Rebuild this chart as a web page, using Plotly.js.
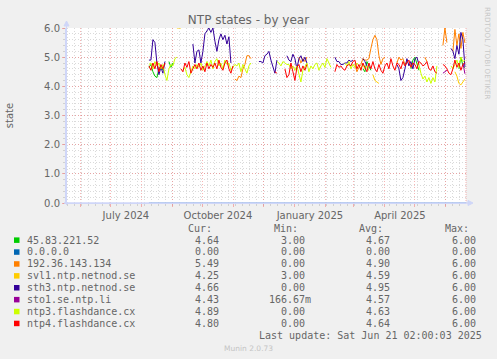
<!DOCTYPE html>
<html><head><meta charset="utf-8">
<script src="https://cdn.plot.ly/plotly-3.0.1.min.js"></script>
<style>html,body{margin:0;padding:0;background:#f0f0f0;}#chart{width:497px;height:359px;}</style>
</head><body><div id="chart"></div>
<script>
// ---- time axis (RRD sampling grid: one sample every 2 days) ----
const sampleStart = '2024-08-08';
const sampleStepDays = 2;
const xRange = ['2024-05-17 02:00:03', '2025-06-21 02:00:03'];
const monthStarts = ['2024-06-01','2024-07-01','2024-08-01','2024-09-01','2024-10-01','2024-11-01','2024-12-01','2025-01-01','2025-02-01','2025-03-01','2025-04-01','2025-05-01','2025-06-01'];
const monthLabels = ['','July 2024','','','October 2024','','','January 2025','','','April 2025','',''];
const yTickVals = [0,1,2,3,4,5,6];
const yTickText = ['0.0','1.0','2.0','3.0','4.0','5.0','6.0'];

// ---- series (values per 2-day sample, null = no data) ----
const s45_83_221_52 = [
4.65,4.75,4.5,4.35,4.3,4.6,4.7,4.55,null,null,
4.85,4.65,4.8,null,null,null,null,null,null,null,
null,null,null,null,null,null,null,null,null,null,
null,null,null,null,null,null,null,null,null,null,
null,null,null,null,null,null,null,null,null,null,
null,null,null,null,null,null,null,null,null,null,
null,null,null,null,null,null,null,null,null,null,
null,null,null,null,null,null,null,null,null,null,
null,null,null,null,null,null,null,null,null,null,
null,null,null,null,null,null,null,null,null,null,
null,null,null,null,null,null,null,4.6,4.5,4.85,
4.7,4.55,null,null,null,null,null,null,null,null,
null,null,null,null,null,null,null,null,null,null,
null,4.6,4.9,5.0,4.75,4.55,null,null,null,null,
null,null,null,null,null,null,null,null,null,null,
null,null,null,null,null,4.6,5.0,4.7,4.64];
const s0_0_0_0_dates = ['2024-08-08','2025-06-21'];
const s0_0_0_0 = [0,0];
const s192_36_143_134 = [
null,null,null,null,null,null,null,null,null,null,
null,null,null,null,null,null,null,null,null,null,
null,null,null,null,null,null,null,null,null,null,
null,null,null,null,null,null,null,null,null,null,
null,null,null,4.25,4.2,4.35,4.3,4.6,4.75,5.05,
5.05,4.95,null,null,null,null,null,null,null,null,
null,null,null,null,null,null,null,null,null,null,
null,null,null,null,null,5.0,4.8,4.95,4.85,5.0,
null,null,null,null,null,null,null,null,null,null,
null,null,null,null,null,null,null,null,null,null,
null,null,null,4.75,4.5,4.65,4.75,4.95,4.9,4.9,
4.95,5.3,5.6,5.75,5.6,5.05,4.75,4.95,5.0,null,
null,null,null,null,4.8,5.0,4.9,4.95,4.75,4.85,
null,null,null,null,null,null,null,null,5.0,4.85,
null,null,null,null,null,null,null,5.4,6.0,5.5,
null,null,5.2,5.95,5.4,5.8,5.3,5.85,5.49];
const sSvl1 = [
null,null,null,null,null,null,null,null,null,null,
null,null,null,null,6.0,6.0,6.0,null,null,null,
null,null,null,null,null,null,null,null,null,null,
null,null,null,null,null,null,null,null,null,null,
null,null,null,null,null,null,null,null,null,null,
null,null,null,null,null,null,null,null,null,null,
null,null,null,null,null,null,null,null,null,null,
null,null,null,null,null,null,null,null,null,null,
null,null,null,null,null,null,null,null,null,null,
null,null,null,null,null,null,null,null,null,null,
null,null,null,null,null,null,null,null,null,null,
null,null,4.4,4.2,4.15,4.1,null,null,null,null,
null,null,null,null,null,null,null,null,null,null,
null,null,null,null,null,null,null,null,null,null,
null,null,null,null,null,null,null,null,null,null,
null,null,null,4.5,4.35,4.1,4.05,4.15,4.25];
const sSth3 = [
4.9,4.9,5.6,5.5,4.8,4.4,4.65,4.45,4.85,null,
null,null,null,null,null,null,null,null,null,null,
null,null,5.45,4.8,5.2,5.25,4.8,5.2,5.8,5.9,
6.0,5.85,6.0,5.55,5.2,5.6,5.8,5.6,5.75,5.45,
5.7,4.8,null,null,null,null,null,null,null,null,
null,null,null,null,null,4.85,4.85,4.8,5.05,5.1,
5.2,4.9,4.7,4.45,4.9,null,null,null,null,5.05,
4.9,4.85,5.1,4.95,4.6,4.95,5.05,4.85,5.0,4.8,
null,null,null,null,null,null,null,null,null,null,
null,null,null,5.0,4.85,4.85,4.75,4.75,4.8,4.8,
4.9,4.85,4.9,null,null,null,null,4.95,4.85,4.7,
null,null,null,null,null,null,null,null,null,null,
null,null,null,null,4.75,4.6,4.2,4.3,4.6,4.95,
4.7,4.85,4.6,4.95,5.0,4.75,null,null,null,null,
null,null,null,null,null,null,null,null,null,null,
null,5.3,5.2,4.95,5.4,5.1,5.85,5.6,4.66];
const sSto1 = [
null,null,null,null,null,null,null,null,null,null,
null,null,null,null,null,null,null,null,null,null,
null,null,null,null,null,null,null,null,null,null,
null,null,null,null,null,null,null,null,null,null,
null,null,null,null,null,null,null,null,null,null,
null,null,null,null,null,null,null,null,null,null,
null,null,null,null,null,null,null,null,null,null,
null,null,null,null,null,null,null,null,null,null,
null,null,null,null,null,null,null,null,null,null,
null,null,null,null,null,null,null,null,null,null,
null,null,null,null,null,null,null,null,null,null,
null,null,null,null,null,null,null,null,null,null,
null,null,null,null,null,null,null,null,null,null,
null,null,null,null,null,null,null,null,null,null,
null,null,null,null,null,null,null,4.45,4.5,4.55,
null,null,null,null,null,null,null,4.8,4.43];
const sNtp3 = [
4.75,4.8,4.6,4.85,4.7,4.8,4.6,4.75,4.4,4.2,
4.6,4.75,4.7,4.95,5.0,null,null,4.55,4.65,4.4,
4.3,4.5,4.7,4.6,4.75,4.65,4.8,4.55,4.7,4.85,
4.7,4.9,4.6,4.85,4.95,4.7,4.8,4.6,4.9,4.75,
4.8,4.55,4.65,4.75,4.7,4.8,4.5,4.75,4.6,4.45,
4.7,4.8,null,null,null,null,null,null,null,null,
null,null,null,null,4.85,4.8,4.7,4.85,4.8,4.75,
4.75,4.6,4.7,4.55,4.7,4.4,4.15,4.55,4.7,4.8,
4.5,4.7,4.6,4.75,4.8,4.55,4.7,4.8,4.65,4.95,
4.8,4.65,null,null,null,null,null,null,4.8,4.7,
4.85,4.6,4.75,4.65,4.8,4.7,4.6,4.75,4.6,4.7,
4.55,null,null,null,null,null,null,null,null,null,
null,null,null,null,null,null,null,null,null,null,
null,null,null,null,4.8,4.75,4.45,4.25,4.35,4.15,
4.3,4.1,4.3,4.15,4.7,null,null,null,null,null,
null,4.7,4.6,4.75,4.9,4.65,5.0,4.85,4.89];
const sNtp4 = [
4.7,4.55,4.8,4.6,4.85,4.5,4.75,4.6,4.8,null,
null,null,null,null,null,null,4.6,4.5,4.8,4.65,
4.85,4.45,4.6,4.75,4.6,4.8,4.55,4.7,4.5,4.8,
4.6,4.75,4.65,4.8,4.6,4.9,4.65,4.55,4.8,4.9,
4.6,4.45,4.7,null,null,null,null,null,null,null,
null,null,null,null,null,null,null,null,null,null,
null,null,null,4.5,4.45,null,null,null,4.6,4.3,
4.4,4.8,4.5,4.2,4.65,4.75,4.5,4.7,4.55,4.75,
null,null,null,null,null,null,null,null,null,null,
null,null,null,4.5,4.75,4.65,4.7,4.6,4.55,4.7,
4.75,4.7,4.85,4.9,4.6,4.75,4.55,4.8,4.65,4.5,
4.8,4.6,4.85,4.6,4.5,4.75,4.55,4.45,4.7,4.8,
4.6,4.95,4.7,4.55,4.8,4.75,4.6,4.85,4.7,4.8,
4.9,4.65,4.8,4.75,4.6,4.85,4.8,4.7,4.75,4.85,
4.6,4.55,4.7,4.5,4.45,null,null,4.75,4.7,4.6,
4.45,4.4,4.6,4.9,4.65,4.8,4.55,4.75,4.8];

// ---- legend table ----
const seriesNames = ['45.83.221.52','0.0.0.0','192.36.143.134','svl1.ntp.netnod.se','sth3.ntp.netnod.se','sto1.se.ntp.li','ntp3.flashdance.cx','ntp4.flashdance.cx'];
const seriesColors = ['#00cc00','#0066b3','#ff8000','#ffcc00','#330099','#990099','#ccff00','#ff0000'];
const curVals = ['4.64','0.00','5.49','4.25','4.66','4.43','4.89','4.80'];
const minVals = ['3.00','0.00','0.00','3.00','0.00','166.67m','0.00','0.00'];
const avgVals = ['4.67','0.00','4.90','4.59','4.95','4.57','4.63','4.64'];
const maxVals = ['6.00','0.00','6.00','6.00','6.00','6.00','6.00','6.00'];
const lastUpdate = 'Last update: Sat Jun 21 02:00:03 2025';

// ---- build ----
function sampleDates(n){
  const out=[]; const t0=Date.parse(sampleStart+'T00:00:00Z');
  for(let i=0;i<n;i++){ out.push(new Date(t0+i*sampleStepDays*86400000).toISOString().slice(0,10)); }
  return out;
}
const seriesVals = [s45_83_221_52, s0_0_0_0, s192_36_143_134, sSvl1, sSth3, sSto1, sNtp3, sNtp4];
const traces = seriesVals.map((v,i)=>({
  type:'scatter', mode:'lines', name:seriesNames[i],
  x: i===1 ? s0_0_0_0_dates : sampleDates(v.length), y:v,
  line:{color:seriesColors[i], width:1}, cliponaxis: i!==1 ? false : true, hoverinfo:'skip', connectgaps:false
}));

const PL=66, PT=28, PW=400, PH=175;
const fx = p => (p-PL)/PW;
const fy = p => (PT+PH-p)/PH;
const FONT = '#666666';
const MONO = 'DejaVu Sans Mono';
const annotations = [];
const shapes = [];
function txt(t, x, y, anchor, opts){
  annotations.push(Object.assign({text:t, xref:'paper', yref:'paper', x:fx(x), y:fy(y), xanchor:anchor, yanchor:'middle', showarrow:false, borderpad:0,
    font:{family:MONO, size:10, color:FONT}}, opts||{}));
}
const rowY0 = 240, rowDy = 11.9;
const colRight = [220, 306, 391, 477];
const hdr = ['Cur:','Min:','Avg:','Max:'];
hdr.forEach((h,j)=>txt(h, colRight[j]-7, 228, 'right'));
const cols = [curVals, minVals, avgVals, maxVals];
seriesNames.forEach((n,k)=>{
  const y = rowY0 + k*rowDy;
  txt(n, 26, y, 'left');
  cols.forEach((c,j)=>{ const s=c[k]; const suffix=/[a-zA-Z]$/.test(s); txt(s, colRight[j]+(suffix?6:0), y, 'right'); });
  shapes.push({type:'rect', xref:'paper', yref:'paper', x0:fx(14), x1:fx(19.5), y0:fy(y+2.9), y1:fy(y-2.6), fillcolor:seriesColors[k], line:{width:0}});
});
txt(lastUpdate, 483, 335.7, 'right');
txt('Munin 2.0.73', 248, 348, 'center', {font:{family:'DejaVu Sans', size:7.5, color:'#c4c4c4'}});
annotations.push({text:'RRDTOOL / TOBI OETIKER', xref:'paper', yref:'paper', x:fx(487.5), y:fy(53.5), xanchor:'center', yanchor:'middle', textangle:90, showarrow:false, borderpad:0,
  font:{family:'DejaVu Sans', size:7.2, color:'#c8c8c8'}});

// axis lines + arrows (drawn above the data, as rrdtool does)
const AX = '#CFD6F8';
shapes.push({type:'line', xref:'paper', yref:'paper', x0:fx(64), x1:fx(469), y0:0, y1:0, layer:'above', line:{color:AX, width:1.5}});
shapes.push({type:'path', xref:'paper', yref:'paper', path:`M ${fx(468)},${fy(200.5)} L ${fx(473)},${fy(203)} L ${fx(468)},${fy(205.5)} Z`, fillcolor:AX, line:{color:AX, width:1}});
shapes.push({type:'line', xref:'paper', yref:'paper', x0:fx(66.5), x1:fx(66.5), y0:fy(205), y1:fy(25), line:{color:AX, width:1}});
shapes.push({type:'path', xref:'paper', yref:'paper', path:`M ${fx(64)},${fy(26)} L ${fx(66.5)},${fy(21)} L ${fx(69)},${fy(26)} Z`, fillcolor:AX, line:{color:AX, width:1}});

const MGRID = 'rgba(240,120,120,0.55)', GRID = 'rgba(150,150,150,0.35)';
shapes.push({type:'line', xref:'paper', yref:'paper', x0:1, x1:1, y0:0, y1:1, layer:'below', line:{color:MGRID, width:1, dash:'1px,1px'}});
const layout = {
  width:497, height:359, margin:{l:PL, r:497-PL-PW, t:PT, b:359-PT-PH, pad:0},
  paper_bgcolor:'#f0f0f0', plot_bgcolor:'#ffffff', showlegend:false,
  font:{family:'DejaVu Sans', size:10, color:FONT},
  title:{text:'NTP states - by year', font:{family:'DejaVu Sans', size:12, color:FONT}, x:0.5, xref:'container', xanchor:'center', y:1-19.5/359, yref:'container', yanchor:'middle'},
  xaxis:{type:'date', range:xRange, tickmode:'array', tickvals:monthStarts, ticktext:monthLabels, ticklabelshift:15,
    showgrid:true, gridcolor:MGRID, griddash:'1px,2px', gridwidth:1, ticks:'outside', ticklen:3, tickcolor:MGRID,
    showline:true, linecolor:AX, linewidth:1, zeroline:false, fixedrange:true, tickfont:{size:10, color:FONT},
    minor:{tickmode:'linear', tick0:'2024-05-26', dtick:604800000, showgrid:true, gridcolor:GRID, griddash:'1px,2px', gridwidth:1, ticks:'outside', ticklen:2, tickcolor:GRID}},
  yaxis:{range:[0,6], tickmode:'array', tickvals:yTickVals, ticktext:yTickText,
    showgrid:true, gridcolor:MGRID, griddash:'1px,2px', gridwidth:1, ticks:'outside', ticklen:3, tickcolor:MGRID,
    showline:true, linecolor:AX, linewidth:1, zeroline:false, fixedrange:true, tickfont:{size:10, color:FONT},
    minor:{dtick:0.2, showgrid:true, gridcolor:GRID, griddash:'1px,2px', gridwidth:1, ticks:'outside', ticklen:2, tickcolor:GRID},
    title:{text:'state', font:{size:10, color:FONT}, standoff:28}},
  annotations:annotations, shapes:shapes
};
Plotly.newPlot('chart', traces, layout, {staticPlot:true, displayModeBar:false});
</script></body></html>
